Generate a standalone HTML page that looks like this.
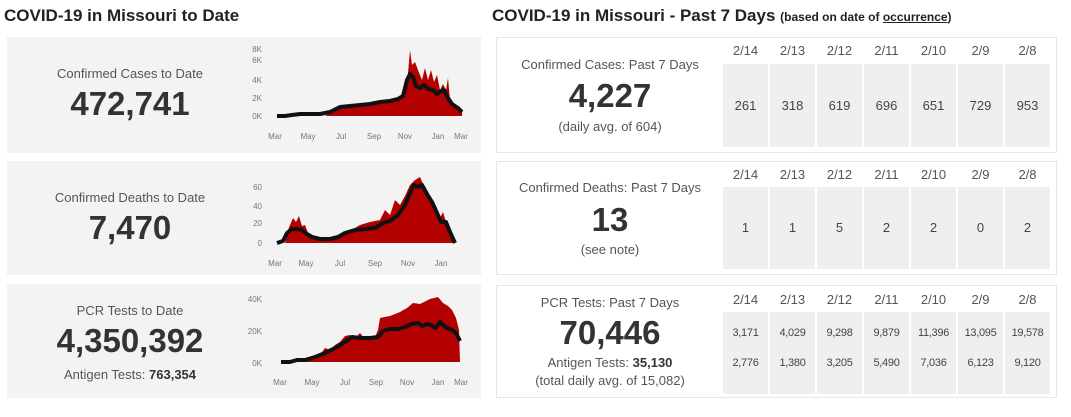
<!DOCTYPE html>
<html><head><meta charset="utf-8"><style>
body{margin:0;width:1071px;height:417px;background:#fff;font-family:"Liberation Sans",sans-serif;color:#333;position:relative;overflow:hidden}
.a{position:absolute}
h1{position:absolute;margin:0;font-size:17px;font-weight:bold;color:#222}
.lp{position:absolute;left:7px;width:474px;background:#f3f3f3}
.rp{position:absolute;left:496px;width:561px;background:#fff;border:1px solid #e6e6e6;box-sizing:border-box}
.lab{position:absolute;width:220px;text-align:center;font-size:13px;color:#555}
.big{position:absolute;width:220px;text-align:center;font-size:33px;font-weight:bold;color:#333}
.cell{position:absolute;width:45px;background:#efefef;text-align:center;font-size:13px;color:#444}
.hd{position:absolute;width:45px;text-align:center;font-size:13px;color:#555}
svg text{font-family:"Liberation Sans",sans-serif;font-size:8px;fill:#777}
</style></head><body>
<h1 style="left:4px;top:6px">COVID-19 in Missouri to Date</h1>
<h1 style="left:492px;top:6px">COVID-19 in Missouri - Past 7 Days <span style="font-size:12px">(based on date of <u>occurrence</u>)</span></h1>

<div class="lp" style="top:37px;height:116px"></div>
<div class="lp" style="top:161px;height:114px"></div>
<div class="lp" style="top:284px;height:114px"></div>

<div class="lab" style="left:20px;top:66px">Confirmed Cases to Date</div>
<div class="big" style="left:20px;top:85px">472,741</div>
<div class="lab" style="left:20px;top:190px">Confirmed Deaths to Date</div>
<div class="big" style="left:20px;top:209px">7,470</div>
<div class="lab" style="left:20px;top:303px">PCR Tests to Date</div>
<div class="big" style="left:20px;top:322px">4,350,392</div>
<div class="lab" style="left:20px;top:367px">Antigen Tests: <b style="color:#333">763,354</b></div>

<svg class="a" style="left:240px;top:37px" width="241" height="361" viewBox="240 37 241 361">
<g text-anchor="end"><text x="262" y="52">8K</text><text x="262" y="63">6K</text><text x="262" y="83">4K</text><text x="262" y="101">2K</text><text x="262" y="119">0K</text></g>
<g text-anchor="middle"><text x="275" y="139">Mar</text><text x="308" y="139">May</text><text x="341" y="139">Jul</text><text x="374" y="139">Sep</text><text x="405" y="139">Nov</text><text x="438" y="139">Jan</text><text x="461" y="139">Mar</text></g>
<polygon fill="#b30000" points="325,116 335,110 340,107 350,106 360,105 375,103 380,100 385,102 390,99 395,101 400,97 405,96 407,85 410,50 412,65 415,62 418,70 422,80 425,68 428,80 431,70 434,82 437,75 440,90 443,84 446,90 448,78 450,100 455,106 462,110 462,116"/>
<polyline fill="none" stroke="#111" stroke-width="4" stroke-linejoin="round" points="277,116 285,116 292,115 300,114 310,114 320,114 330,112 340,107 350,106 360,105 370,104 380,102 390,101 398,99 403,96 407,80 410,74 413,77 416,86 420,88 424,85 428,89 433,90 437,94 441,91 444,90 448,98 452,104 458,108 462,112"/>
<g text-anchor="end"><text x="262" y="190">60</text><text x="262" y="209">40</text><text x="262" y="226">20</text><text x="262" y="246">0</text></g>
<g text-anchor="middle"><text x="275" y="266">Mar</text><text x="306" y="266">May</text><text x="340" y="266">Jul</text><text x="375" y="266">Sep</text><text x="408" y="266">Nov</text><text x="441" y="266">Jan</text></g>
<polygon fill="#b30000" points="285,243 288,230 290,225 293,218 296,222 299,216 302,226 305,225 308,233 315,238 330,239 340,236 350,231 360,225 370,222 380,220 385,210 390,215 395,200 400,205 405,196 410,185 415,180 420,177 423,184 428,193 435,205 440,218 443,212 446,222 450,230 455,243"/>
<polyline fill="none" stroke="#111" stroke-width="4" stroke-linejoin="round" points="277,243 283,241 287,233 292,229 297,229 302,230 307,234 312,237 320,239 330,239 338,237 345,233 355,230 365,229 375,228 383,223 390,221 398,215 405,205 410,193 414,185 418,187 422,185 427,194 432,202 437,213 441,222 446,222 450,232 455,243"/>
<g text-anchor="end"><text x="262" y="302">40K</text><text x="262" y="334">20K</text><text x="262" y="366">0K</text></g>
<g text-anchor="middle"><text x="280" y="385">Mar</text><text x="312" y="385">May</text><text x="345" y="385">Jul</text><text x="376" y="385">Sep</text><text x="407" y="385">Nov</text><text x="438" y="385">Jan</text><text x="461" y="385">Mar</text></g>
<polygon fill="#b30000" points="295,362 305,360 315,357 320,355 325,348 330,350 335,345 340,342 345,336 350,335 355,338 360,333 365,339 370,336 375,337 378,330 380,318 390,316 395,314 400,312 407,308 413,303 420,304 430,299 438,297 443,303 448,306 452,310 456,318 459,330 460,362"/>
<polyline fill="none" stroke="#111" stroke-width="4" stroke-linejoin="round" points="281,362 290,362 297,360 305,360 315,357 325,353 335,348 345,342 352,337 360,338 370,338 378,337 383,331 390,329 398,329 405,327 412,324 418,323 422,326 427,324 431,325 436,328 440,322 443,325 447,328 452,330 456,333 460,341"/>
</svg>

<div class="rp" style="top:37px;height:116px"></div>
<div class="rp" style="top:161px;height:114px"></div>
<div class="rp" style="top:285px;height:113px"></div>

<div class="lab" style="left:500px;top:57px">Confirmed Cases: Past 7 Days</div>
<div class="big" style="left:500px;top:77px">4,227</div>
<div class="lab" style="left:500px;top:119px">(daily avg. of 604)</div>
<div class="lab" style="left:500px;top:180px">Confirmed Deaths: Past 7 Days</div>
<div class="big" style="left:500px;top:201px">13</div>
<div class="lab" style="left:500px;top:242px">(see note)</div>
<div class="lab" style="left:500px;top:295px">PCR Tests: Past 7 Days</div>
<div class="big" style="left:500px;top:314px">70,446</div>
<div class="lab" style="left:500px;top:355px">Antigen Tests: <b style="color:#333">35,130</b></div>
<div class="lab" style="left:500px;top:373px">(total daily avg. of 15,082)</div>

<div class="hd" style="left:723px;top:43px">2/14</div><div class="hd" style="left:770px;top:43px">2/13</div><div class="hd" style="left:817px;top:43px">2/12</div><div class="hd" style="left:864px;top:43px">2/11</div><div class="hd" style="left:911px;top:43px">2/10</div><div class="hd" style="left:958px;top:43px">2/9</div><div class="hd" style="left:1005px;top:43px">2/8</div>
<div class="cell" style="left:723px;top:64px;height:83px;line-height:83px">261</div><div class="cell" style="left:770px;top:64px;height:83px;line-height:83px">318</div><div class="cell" style="left:817px;top:64px;height:83px;line-height:83px">619</div><div class="cell" style="left:864px;top:64px;height:83px;line-height:83px">696</div><div class="cell" style="left:911px;top:64px;height:83px;line-height:83px">651</div><div class="cell" style="left:958px;top:64px;height:83px;line-height:83px">729</div><div class="cell" style="left:1005px;top:64px;height:83px;line-height:83px">953</div>

<div class="hd" style="left:723px;top:167px">2/14</div><div class="hd" style="left:770px;top:167px">2/13</div><div class="hd" style="left:817px;top:167px">2/12</div><div class="hd" style="left:864px;top:167px">2/11</div><div class="hd" style="left:911px;top:167px">2/10</div><div class="hd" style="left:958px;top:167px">2/9</div><div class="hd" style="left:1005px;top:167px">2/8</div>
<div class="cell" style="left:723px;top:187px;height:82px;line-height:82px">1</div><div class="cell" style="left:770px;top:187px;height:82px;line-height:82px">1</div><div class="cell" style="left:817px;top:187px;height:82px;line-height:82px">5</div><div class="cell" style="left:864px;top:187px;height:82px;line-height:82px">2</div><div class="cell" style="left:911px;top:187px;height:82px;line-height:82px">2</div><div class="cell" style="left:958px;top:187px;height:82px;line-height:82px">0</div><div class="cell" style="left:1005px;top:187px;height:82px;line-height:82px">2</div>

<div class="hd" style="left:723px;top:292px">2/14</div><div class="hd" style="left:770px;top:292px">2/13</div><div class="hd" style="left:817px;top:292px">2/12</div><div class="hd" style="left:864px;top:292px">2/11</div><div class="hd" style="left:911px;top:292px">2/10</div><div class="hd" style="left:958px;top:292px">2/9</div><div class="hd" style="left:1005px;top:292px">2/8</div>
<div class="cell" style="left:723px;top:312px;height:82px;font-size:11px;letter-spacing:-0.3px"><div style="margin-top:15px">3,171</div><div style="margin-top:18px">2,776</div></div>
<div class="cell" style="left:770px;top:312px;height:82px;font-size:11px;letter-spacing:-0.3px"><div style="margin-top:15px">4,029</div><div style="margin-top:18px">1,380</div></div>
<div class="cell" style="left:817px;top:312px;height:82px;font-size:11px;letter-spacing:-0.3px"><div style="margin-top:15px">9,298</div><div style="margin-top:18px">3,205</div></div>
<div class="cell" style="left:864px;top:312px;height:82px;font-size:11px;letter-spacing:-0.3px"><div style="margin-top:15px">9,879</div><div style="margin-top:18px">5,490</div></div>
<div class="cell" style="left:911px;top:312px;height:82px;font-size:11px;letter-spacing:-0.3px"><div style="margin-top:15px">11,396</div><div style="margin-top:18px">7,036</div></div>
<div class="cell" style="left:958px;top:312px;height:82px;font-size:11px;letter-spacing:-0.3px"><div style="margin-top:15px">13,095</div><div style="margin-top:18px">6,123</div></div>
<div class="cell" style="left:1005px;top:312px;height:82px;font-size:11px;letter-spacing:-0.3px"><div style="margin-top:15px">19,578</div><div style="margin-top:18px">9,120</div></div>
</body></html>
